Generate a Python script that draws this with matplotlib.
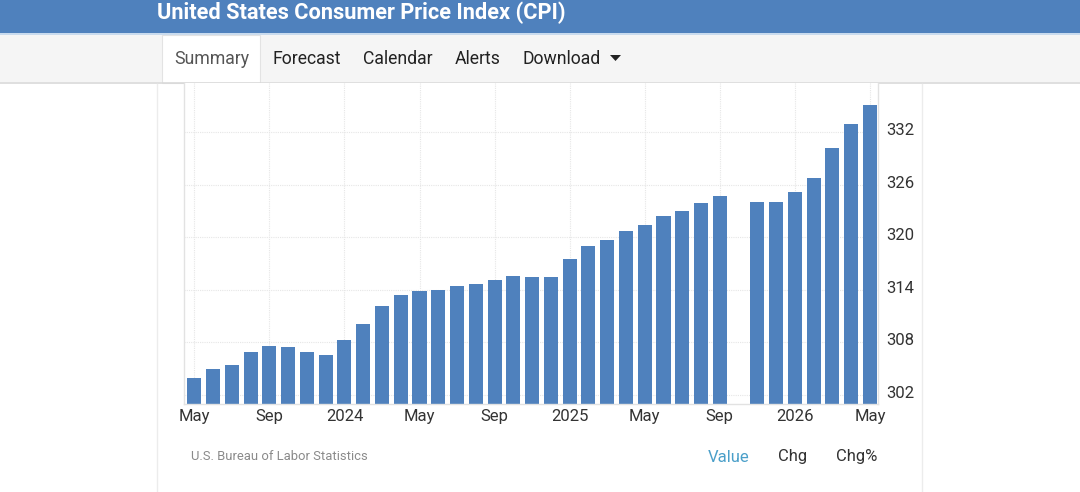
"""
US CPI monthly bars, May 2023 - May 2026, laid out like the TradingEconomics page.
"""
import numpy as np
import matplotlib
matplotlib.use("Agg")
import matplotlib.pyplot as plt
import matplotlib.transforms as mtransforms
from matplotlib.patches import Rectangle, Polygon

plt.rcParams["font.family"] = ["Roboto", "DejaVu Sans"]

# ---- data ----
months = ["May 2023", "Jun 2023", "Jul 2023", "Aug 2023", "Sep 2023", "Oct 2023",
          "Nov 2023", "Dec 2023", "Jan 2024", "Feb 2024", "Mar 2024", "Apr 2024",
          "May 2024", "Jun 2024", "Jul 2024", "Aug 2024", "Sep 2024", "Oct 2024",
          "Nov 2024", "Dec 2024", "Jan 2025", "Feb 2025", "Mar 2025", "Apr 2025",
          "May 2025", "Jun 2025", "Jul 2025", "Aug 2025", "Sep 2025", "Oct 2025",
          "Nov 2025", "Dec 2025", "Jan 2026", "Feb 2026", "Mar 2026", "Apr 2026",
          "May 2026"]
cpi = [303.97, 304.96, 305.46, 306.87, 307.63, 307.48, 306.87, 306.60,
       308.24, 310.15, 312.13, 313.39, 313.92, 314.04, 314.42, 314.69,
       315.18, 315.56, 315.45, 315.45,
       317.58, 318.96, 319.68, 320.71, 321.36, 322.47, 323.00, 323.88,
       324.75, np.nan, 323.99, 323.99,
       325.13, 326.77, 330.21, 332.99, 335.13]
tick_pos = [0, 4, 8, 12, 16, 20, 24, 28, 32, 36]
tick_labels = ["May", "Sep", "2024", "May", "Sep", "2025", "May", "Sep", "2026", "May"]
y_ticks = [302, 308, 314, 320, 326, 332]

title = "United States Consumer Price Index (CPI)"
tabs = ["Summary", "Forecast", "Calendar", "Alerts", "Download"]
source = "U.S. Bureau of Labor Statistics"
buttons = ["Value", "Chg", "Chg%"]

BLUE = "#4f81bd"
W, H = 1080, 492

fig = plt.figure(figsize=(W / 100, H / 100), dpi=100, facecolor="white")

# page chrome, drawn in pixel coordinates
bg = fig.add_axes([0, 0, 1, 1], zorder=0)
bg.set_xlim(0, W)
bg.set_ylim(H, 0)
bg.axis("off")

bg.add_patch(Rectangle((0, 0), W, 33, color=BLUE, lw=0))
bg.add_patch(Rectangle((0, 33), W, 1.5, color="#c9dbee", lw=0))
bg.add_patch(Rectangle((0, 34.5), W, 47.5, color="#f5f5f5", lw=0))
bg.plot([0, W], [82.5, 82.5], color="#d9d9d9", lw=1.2)
bg.add_patch(Rectangle((162, 34.5), 98, 48.5, facecolor="white",
                       edgecolor="#e3e3e3", lw=0.8))
bg.plot([157, 157], [84, H], color="#ececec", lw=1)
bg.plot([922, 922], [84, H], color="#ececec", lw=1)

bg.text(157, 12.5, title, color="white", fontsize=15.7, fontweight="bold",
        va="center", ha="left")

tab_x = [174, 273, 363, 455, 523]
for name, tx in zip(tabs, tab_x):
    bg.text(tx, 58.5, name, fontsize=12.7, va="center", ha="left",
            color="#555555" if name == "Summary" else "#222222")
bg.add_patch(Polygon([[610, 55], [621, 55], [615.5, 61]], closed=True,
                     color="#222222", lw=0))

bg.text(191, 456, source, fontsize=9.4, color="#8a8a8a", va="center", ha="left")
btn_x = [729, 793, 857]
btn_col = ["#4a9fc9", "#333333", "#333333"]
for name, bx, bc in zip(buttons, btn_x, btn_col):
    bg.text(bx, 457, name, fontsize=12, color=bc, va="center", ha="center")

# ---- the chart itself ----
left, right, top, bottom = 184, 878, 83, 404
ax = fig.add_axes([left / W, (H - bottom) / H, (right - left) / W, (bottom - top) / H],
                  zorder=1)

vals = np.array(cpi, dtype=float)
x = np.arange(len(months))
ok = ~np.isnan(vals)
ax.bar(x[ok], vals[ok], width=0.75, color=BLUE, zorder=2)

ax.set_xlim(-0.55, 36.43)
ax.set_ylim(300.97, 337.63)
ax.set_xticks(tick_pos)
ax.set_xticklabels(tick_labels)
ax.set_yticks(y_ticks)
ax.yaxis.tick_right()
ax.tick_params(axis="both", length=0, labelsize=12, colors="#333333")
ax.tick_params(axis="x", pad=3.5)
ax.tick_params(axis="y", pad=6)

# y labels sit a few pixels above their gridlines on the page
lift = mtransforms.ScaledTranslation(0, 3 / 100, fig.dpi_scale_trans)
for lab in ax.get_yticklabels():
    lab.set_transform(lab.get_transform() + lift)

ax.set_axisbelow(True)
ax.grid(True, color="#e6e6e6", lw=0.8, ls=(0, (1, 1)))
for side in ["left", "right", "bottom"]:
    ax.spines[side].set_color("#e2e2e2")
    ax.spines[side].set_linewidth(1)
ax.spines["top"].set_visible(False)

fig.savefig("out.png", dpi=100, facecolor="white")
